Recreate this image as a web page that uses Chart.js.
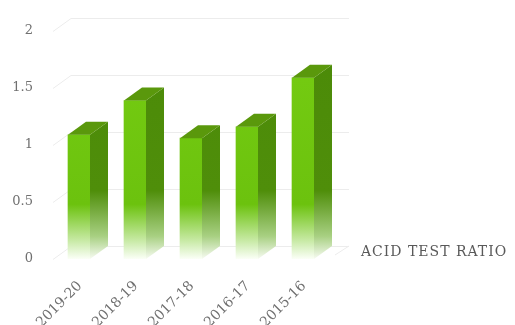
<!DOCTYPE html>
<html lang="en">
<head>
  <meta charset="UTF-8">
  <title>Acid test ratio</title>
  <script src="https://cdn.jsdelivr.net/npm/chart.js@4.4.0/dist/chart.umd.min.js"></script>
  <style>
    body { margin: 0; background: #fff; }
    #wrap { width: 515px; height: 325px; }
  </style>
</head>
<body>
<div id="wrap"><canvas id="chart"></canvas></div>

<script>
 const categories = ['2019-20', '2018-19', '2017-18', '2016-17', '2015-16'];
 const acidTestRatio = [1.09, 1.39, 1.06, 1.16, 1.59];
 const yTicks = [0, 0.5, 1, 1.5, 2];
 const seriesName = 'ACID TEST RATIO';

 // depth of the fake 3d look
 const DX = 18, DY = -13;
 const serif = '"DejaVu Serif", "Liberation Serif", serif';

 function vGrad(ctx, area, stops) {
   const g = ctx.createLinearGradient(0, area.top, 0, area.bottom);
   stops.forEach(s => g.addColorStop(s[0], s[1]));
   return g;
 }

 const frontStops = [[0, '#76cd12'], [0.76, '#6cc20e'], [0.92, '#c8eaa6'], [1, '#fbfff7']];
 const sideStops = [[0, '#4b8a08'], [0.7, '#4f8e0a'], [0.9, '#a8d082'], [1, '#f7fbf2']];

 const walls = {
   id: 'walls',
   beforeDatasetsDraw(chart) {
     const { ctx, chartArea: a, scales: { y } } = chart;
     ctx.save();
     ctx.strokeStyle = '#ececec';
     ctx.lineWidth = 1;
     yTicks.forEach(v => {
       const py = Math.round(y.getPixelForValue(v)) + 0.5;
       ctx.beginPath();
       ctx.moveTo(a.left + 2, py);
       ctx.lineTo(a.left + 2 + DX, py + DY);
       ctx.lineTo(a.right + DX, py + DY);
       ctx.stroke();
     });
     const p0 = y.getPixelForValue(0);
     ctx.beginPath();
     ctx.moveTo(a.right + 4, p0 - 4);
     ctx.lineTo(a.right + DX, p0 + DY);
     ctx.stroke();
     ctx.restore();
   },
   afterDatasetsDraw(chart) {
     const { ctx, chartArea: a, scales: { y } } = chart;
     const meta = chart.getDatasetMeta(0);
     ctx.save();
     meta.data.forEach(bar => {
       const p = bar.getProps(['x', 'y', 'base', 'width'], true);
       const l = p.x - p.width / 2, r = p.x + p.width / 2;
       // side face
       ctx.fillStyle = vGrad(ctx, a, sideStops);
       ctx.beginPath();
       ctx.moveTo(r, p.y);
       ctx.lineTo(r + DX, p.y + DY);
       ctx.lineTo(r + DX, p.base + DY);
       ctx.lineTo(r, p.base);
       ctx.closePath();
       ctx.fill();
       // top face
       ctx.fillStyle = '#5a980c';
       ctx.beginPath();
       ctx.moveTo(l, p.y);
       ctx.lineTo(l + DX, p.y + DY);
       ctx.lineTo(r + DX, p.y + DY);
       ctx.lineTo(r, p.y);
       ctx.closePath();
       ctx.fill();
     });
     // series name next to the floor
     ctx.fillStyle = '#595959';
     ctx.font = '14px ' + serif;
     ctx.letterSpacing = '1px';
     ctx.textBaseline = 'middle';
     ctx.fillText(seriesName, a.right + 30, y.getPixelForValue(0) - 7);
     ctx.restore();
   }
 };

 new Chart(document.getElementById('chart'), {
   type: 'bar',
   data: {
     labels: categories,
     datasets: [{
       label: seriesName,
       data: acidTestRatio,
       barThickness: 22,
       borderWidth: 0,
       backgroundColor: c => c.chart.chartArea ? vGrad(c.chart.ctx, c.chart.chartArea, frontStops) : '#6cc00e'
     }]
   },
   options: {
     responsive: true,
     maintainAspectRatio: false,
     animation: false,
     layout: { padding: { top: 31, right: 184, left: 0, bottom: 0 } },
     plugins: { legend: { display: false }, tooltip: { enabled: false } },
     scales: {
       x: {
         grid: { display: false },
         border: { display: false },
         afterFit: s => { s.height = 66; },
         ticks: {
           minRotation: 45, maxRotation: 45,
           padding: 11,
           labelOffset: 1,
           color: '#707070',
           font: { family: serif, size: 14 }
         }
       },
       y: {
         min: 0, max: 2,
         grid: { display: false, drawTicks: false },
         border: { display: false },
         afterFit: s => { s.width = 51; },
         afterBuildTicks: s => { s.ticks = yTicks.map(v => ({ value: v })); },
         ticks: {
           padding: 18,
           color: '#707070',
           font: { family: serif, size: 13 },
           callback: v => String(v)
         }
       }
     }
   },
   plugins: [walls]
 });
</script>
</body>
</html>
